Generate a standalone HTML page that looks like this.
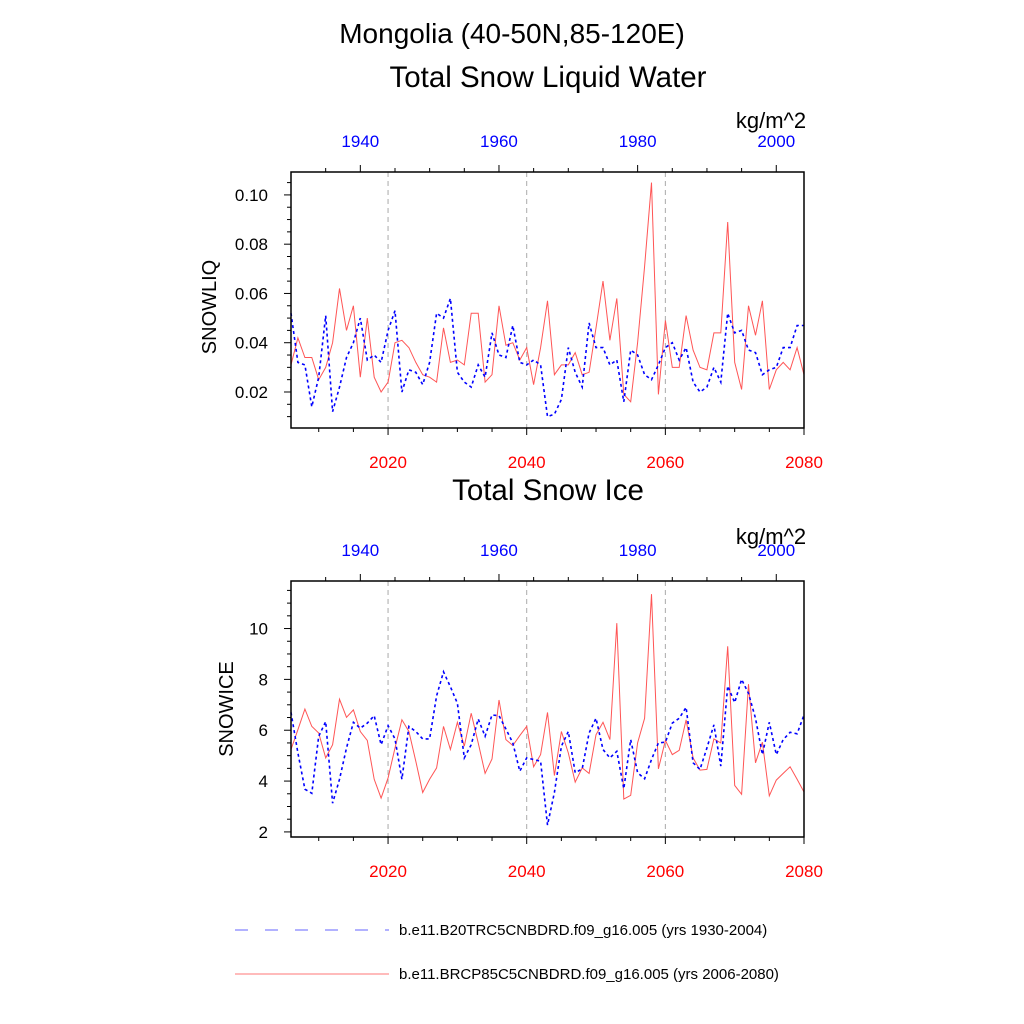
<!DOCTYPE html>
<html><head><meta charset="utf-8"><style>
html,body{margin:0;padding:0;background:#fff;}
svg{display:block;font-family:"Liberation Sans",sans-serif;}
</style></head><body>
<svg id="chart" width="1024" height="1024" viewBox="0 0 1024 1024">
<text x="512" y="43" font-size="28" text-anchor="middle">Mongolia (40-50N,85-120E)</text>
<text x="548" y="87" font-size="29.5" text-anchor="middle">Total Snow Liquid Water</text>
<text x="771" y="128" font-size="22" text-anchor="middle">kg/m^2</text>
<text transform="translate(216,307) rotate(-90)" font-size="20" text-anchor="middle">SNOWLIQ</text>
<text x="548" y="500" font-size="29.5" text-anchor="middle">Total Snow Ice</text>
<text x="771" y="544" font-size="22" text-anchor="middle">kg/m^2</text>
<text transform="translate(233,709) rotate(-90)" font-size="20" text-anchor="middle">SNOWICE</text>
<g>
<line x1="235" y1="930" x2="389" y2="930" stroke="#6666ff" stroke-width="1" stroke-dasharray="13,17"/>
<text x="399" y="935" font-size="15">b.e11.B20TRC5CNBDRD.f09_g16.005 (yrs 1930-2004)</text>
<line x1="235" y1="974" x2="389" y2="974" stroke="#ff7777" stroke-width="1"/>
<text x="399" y="979" font-size="15">b.e11.BRCP85C5CNBDRD.f09_g16.005 (yrs 2006-2080)</text>
</g>
</svg>
<script>
const rcpYears0 = 2006;
const histYears0 = 1930;
const liqRcp = [.031,.042,.034,.034,.025,.030,.040,.062,.045,.055,.026,.050,.026,.020,.024,.040,.041,.038,.032,.027,.026,.024,.046,.032,.033,.031,.052,.052,.024,.027,.055,.039,.040,.033,.038,.023,.038,
.057,.027,.031,.031,.036,.027,.028,.046,.065,.041,.058,.019,.016,.040,.071,.105,.019,.049,.030,.030,.051,.037,.030,.029,.044,.044,.089,.032,.021,.055,.043,.057,.021,.029,.032,.029,.038,.027];
const liqHist = [.052,.032,.031,.014,.026,.051,.012,.022,.034,.040,.050,.033,.035,.032,.045,.053,.020,.029,.028,.023,.032,.052,.050,.058,.028,.024,.022,.031,.026,.044,.035,.034,.047,.032,.031,.033,.031,
.010,.011,.017,.038,.028,.022,.048,.038,.038,.031,.033,.016,.037,.035,.027,.025,.031,.038,.040,.033,.038,.024,.020,.022,.030,.024,.052,.044,.045,.037,.036,.027,.029,.030,.038,.038,.047,.047];
const iceRcp = [5.24,6.02,6.83,6.15,5.89,4.91,5.43,7.22,6.51,6.80,5.95,5.60,4.07,3.33,4.13,5.30,6.41,5.95,4.78,3.55,4.07,4.52,6.15,5.24,6.31,5.37,6.67,5.50,4.30,4.87,7.19,5.63,5.40,5.79,6.15,4.56,5.04,
6.70,4.22,5.95,5.11,3.96,4.52,4.30,5.82,6.31,5.63,10.21,3.29,3.44,5.50,6.47,11.35,4.48,5.60,5.04,5.21,6.41,4.91,4.43,4.46,5.66,5.50,9.30,3.83,3.48,7.81,4.72,5.53,3.42,4.04,4.30,4.56,4.07,3.57];
const iceHist = [6.70,5.11,3.68,3.52,5.76,6.34,3.13,4.07,5.30,6.31,6.08,6.28,6.57,5.43,6.18,5.66,4.07,6.15,5.95,5.66,5.66,7.35,8.30,7.71,7.06,4.91,5.43,6.44,5.76,6.60,6.57,6.05,5.50,4.39,4.91,4.85,4.78,
2.27,3.55,5.37,5.95,4.33,4.48,5.89,6.47,5.24,4.91,5.17,3.70,5.63,4.33,4.09,4.85,5.50,5.53,6.28,6.47,6.90,4.72,4.46,5.30,6.21,4.59,7.74,7.09,8.00,7.45,6.47,5.04,6.31,5.04,5.63,5.92,5.86,6.60];
const liqTicks = [0.02,0.04,0.06,0.08,0.10];
const iceTicks = [2,4,6,8,10];
const rcpTicks = [2020,2040,2060,2080];
const histTicks = [1940,1960,1980,2000];

const NS = "http://www.w3.org/2000/svg";
const svg = document.getElementById('chart');
function mk(tag, attrs, parent){const e=document.createElementNS(NS,tag);for(const k in attrs)e.setAttribute(k,attrs[k]);(parent||svg).appendChild(e);return e;}

const X0=291, X1=804;
function xr(yr){return X0+(yr-2006)*(X1-X0)/74;}
function xh(yr){return X0+(yr-1930)*(X1-X0)/74;}

function panel(name, top, bot, vmin, vmax, minorStep, majorTicks, fmt, rcp, hist){
  const g=mk('g',{});
  
  
  const y=v=>bot-(v-vmin)*(bot-top)/(vmax-vmin);
  [2020,2040,2060].forEach(yr=>{
    const l=mk('line',{x1:xr(yr),x2:xr(yr),y1:top,y2:bot,stroke:'#aaa','stroke-width':1,'stroke-dasharray':'5,4'},g);
    
    
  });
  const start=Math.ceil(vmin/minorStep-1e-6);
  for(let k=start;k*minorStep<=vmax+1e-9;k++){
    const v=k*minorStep;
    const major=majorTicks.some(t=>Math.abs(t-v)<minorStep/10);
    mk('line',{x1:X0,x2:X0-(major?7:4),y1:y(v),y2:y(v),stroke:'#000','stroke-width':1},g);
  }
  majorTicks.forEach(t=>{
    const tx=mk('text',{x:X0-23,y:y(t)+6,'font-size':17,'text-anchor':'end'},g);
    tx.textContent=fmt(t);
    
    
  });
  for(let yr=2010;yr<=2080;yr+=5){
    const major=yr%20===0;
    mk('line',{x1:xr(yr),x2:xr(yr),y1:bot,y2:bot+(major?7:4),stroke:'#000','stroke-width':1},g);
  }
  rcpTicks.forEach(t=>{
    const tx=mk('text',{x:xr(t),y:bot+40,'font-size':17,'text-anchor':'middle',fill:'#ff0000'},g);
    tx.textContent=t;
    
    
  });
  for(let yr=1935;yr<=2000;yr+=5){
    const major=yr%20===0;
    mk('line',{x1:xh(yr),x2:xh(yr),y1:top,y2:top-(major?7:4),stroke:'#000','stroke-width':1},g);
  }
  histTicks.forEach(t=>{
    const tx=mk('text',{x:xh(t),y:top-25,'font-size':17,'text-anchor':'middle',fill:'#0000ff'},g);
    tx.textContent=t;
    
    
  });
  const pr=rcp.map((v,i)=>xr(rcpYears0+i).toFixed(1)+','+y(v).toFixed(1)).join(' ');
  const lr=mk('polyline',{points:pr,fill:'none',stroke:'#ff5555','stroke-width':1},g);
  
  
  const ph=hist.map((v,i)=>xh(histYears0+i).toFixed(1)+','+y(v).toFixed(1)).join(' ');
  const lh=mk('polyline',{points:ph,fill:'none',stroke:'#0000ff','stroke-width':1.6,'stroke-dasharray':'3,3'},g);
  
  
  const fr=mk('rect',{x:X0,y:top,width:X1-X0,height:bot-top,fill:'none',stroke:'#000','stroke-width':1.5},g);
  
  
}
panel('snowliq',172,428,0.00538,0.1093,0.005,liqTicks,v=>v.toFixed(2),liqRcp,liqHist);
panel('snowice',581,837,1.80,11.87,0.5,iceTicks,v=>String(v),iceRcp,iceHist);
</script>
</body></html>
